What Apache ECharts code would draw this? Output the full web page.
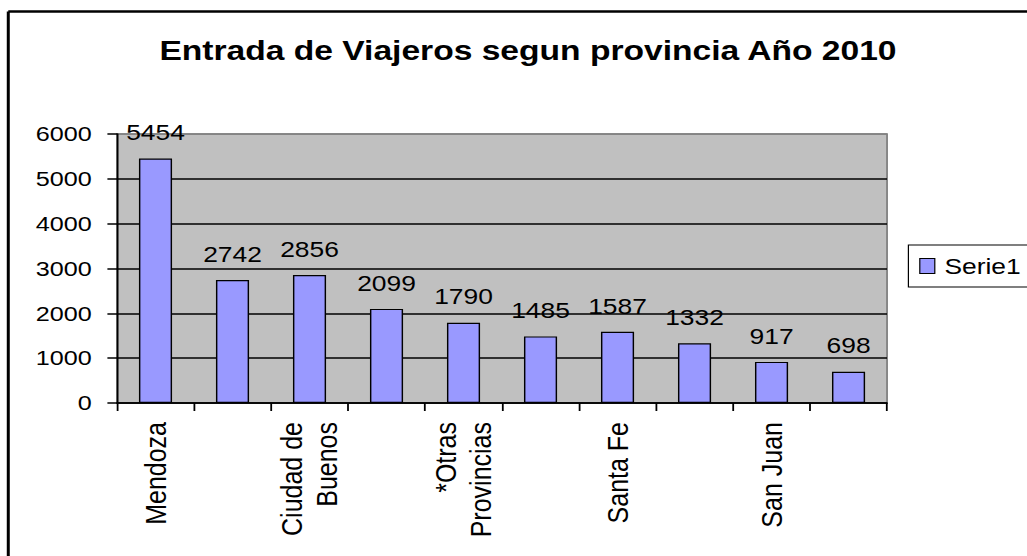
<!DOCTYPE html>
<html>
<head>
<meta charset="utf-8">
<script src="https://cdn.jsdelivr.net/npm/echarts@6/dist/echarts.min.js"></script>
<style>
  html, body { margin: 0; padding: 0; background: #fff; overflow: hidden; }
  #wrap { width: 1027px; height: 556px; overflow: hidden; }
  #chart { width: 856px; height: 556px; transform: scaleX(1.2); transform-origin: 0 0; }
</style>
</head>
<body>
<div id="wrap"><div id="chart"></div></div>
<script>
// Categories (only every other label is visible in the reference)
var categories = ['Mendoza', 'Córdoba', 'Ciudad de\nBuenos', 'Buenos Aires', '*Otras\nProvincias', 'Neuquén', 'Santa Fe', 'Salta', 'San Juan', 'Tucumán'];
var serie1 = [5454, 2742, 2856, 2099, 1790, 1485, 1587, 1332, 917, 698];
var seriesName = 'Serie1';
var titleText = 'Entrada de Viajeros segun provincia Año 2010';
var yMin = 0, yMax = 6000, yStep = 1000;

var FONT = '"Liberation Sans", Arial, sans-serif';
var chart = echarts.init(document.getElementById('chart'), null, { renderer: 'svg' });
chart.setOption({
  animation: false,
  backgroundColor: '#ffffff',
  textStyle: { fontFamily: FONT, color: '#000' },
  title: {
    text: titleText,
    left: 435,
    textAlign: 'center',
    top: 31,
    textStyle: { fontFamily: FONT, fontSize: 28, fontWeight: 'bold', color: '#000' }
  },
  legend: {
    data: [seriesName],
    left: 757,
    top: 245,
    orient: 'vertical',
    icon: 'rect',
    itemWidth: 12.5,
    itemHeight: 15,
    padding: [10, 60, 10, 9],
    borderColor: '#000',
    borderWidth: 1,
    backgroundColor: '#fff',
    borderRadius: 0,
    itemStyle: { borderColor: '#000', borderWidth: 1 },
    textStyle: { fontFamily: FONT, fontSize: 22, color: '#000', padding: [0, 0, 0, 3] }
  },
  grid: {
    left: 97.5,
    right: 116.8,
    top: 134,
    bottom: 153,
    show: true,
    backgroundColor: '#c0c0c0',
    borderColor: '#808080',
    borderWidth: 1.5,
    containLabel: false
  },
  xAxis: {
    type: 'category',
    data: categories,
    boundaryGap: true,
    axisLine: { show: true, lineStyle: { color: '#000', width: 1.5 } },
    axisTick: { show: true, interval: 0, length: 8, lineStyle: { color: '#000', width: 1.5 } },
    axisLabel: {
      interval: 1,
      rotate: 90,
      margin: 19,
      fontFamily: FONT,
      fontSize: 25,
      lineHeight: 29,
      color: '#000'
    },
    splitLine: { show: false }
  },
  yAxis: {
    type: 'value',
    min: yMin,
    max: yMax,
    interval: yStep,
    axisLine: { show: true, lineStyle: { color: '#000', width: 1.5 } },
    axisTick: { show: true, length: 8, lineStyle: { color: '#000', width: 1.5 } },
    axisLabel: {
      margin: 21, fontFamily: FONT, fontSize: 21, color: '#000',
      formatter: function (v) { return String(v); }
    },
    splitLine: {
      show: true,
      lineStyle: { color: ['#000', '#000', '#000', '#000', '#000', '#000', '#808080'], width: 1.5 }
    }
  },
  series: [{
    name: seriesName,
    type: 'bar',
    data: serie1,
    barWidth: '43%',
    itemStyle: { color: '#9999ff', borderColor: '#000', borderWidth: 1.2 },
    label: {
      show: true,
      position: 'top',
      distance: 15,
      fontFamily: FONT,
      fontSize: 22,
      color: '#000'
    }
  }],
  graphic: [
    { type: 'line', shape: { x1: 6.9, y1: 11.5, x2: 860, y2: 11.5 }, style: { stroke: '#000', lineWidth: 2.5 }, silent: true },
    { type: 'line', shape: { x1: 6.9, y1: 11.5, x2: 6.9, y2: 560 }, style: { stroke: '#000', lineWidth: 2.5 }, silent: true }
  ]
});
</script>
</body>
</html>
